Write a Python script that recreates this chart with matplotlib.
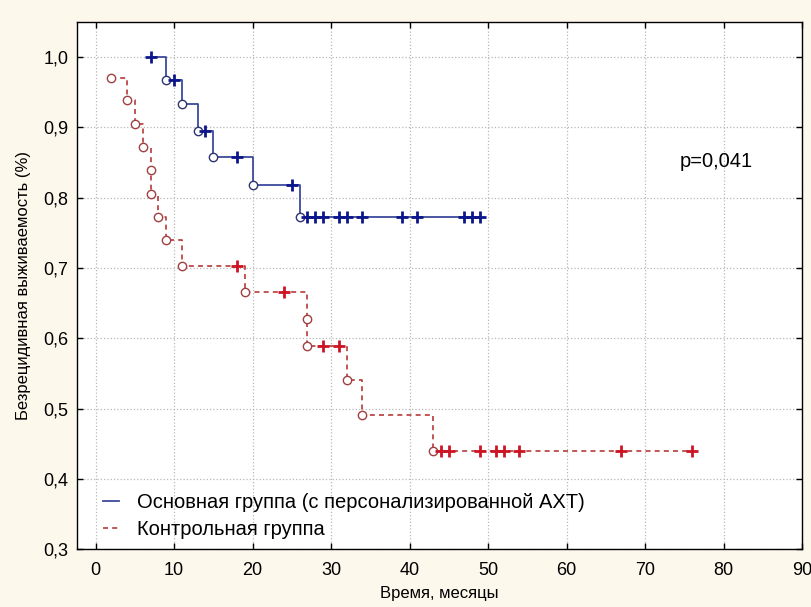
import numpy as np
import matplotlib
matplotlib.use('Agg')
import matplotlib.pyplot as plt
from matplotlib.lines import Line2D

plt.rcParams['font.family'] = ['Liberation Sans', 'DejaVu Sans']

# main group (personalised chemotherapy): event times / survival after event
blue_event_t = [9, 11, 13, 15, 20, 26]
blue_event_s = [0.967, 0.933, 0.895, 0.858, 0.818, 0.772]
blue_cens_t = [7, 10, 14, 18, 25, 27, 28, 29, 31, 32, 34, 39, 41, 47, 48, 49]

# control group
red_event_t = [2, 4, 5, 6, 7, 7, 8, 9, 11, 19, 27, 27, 32, 34, 43]
red_event_s = [0.970, 0.938, 0.905, 0.872, 0.839, 0.805, 0.772, 0.739,
               0.703, 0.666, 0.628, 0.589, 0.540, 0.491, 0.440]
red_cens_t = [18, 24, 29, 31, 44, 45, 49, 51, 52, 54, 67, 76]

xticks = [0, 10, 20, 30, 40, 50, 60, 70, 80, 90]
yticks = [0.3, 0.4, 0.5, 0.6, 0.7, 0.8, 0.9, 1.0]
ytick_labels = ['0,3', '0,4', '0,5', '0,6', '0,7', '0,8', '0,9', '1,0']

legend_labels = ['Основная группа (с персонализированной АХТ)', 'Контрольная группа']
p_text = 'p=0,041'


def surv_at(t, ev_t, ev_s):
    s = 1.0
    for et, es in zip(ev_t, ev_s):
        if et <= t:
            s = es
    return s


def km_curve(ax, ev_t, ev_s, cens_t, line_kw, circ_col, plus_col):
    cens_s = [surv_at(t, ev_t, ev_s) for t in cens_t]
    pts = [(t, s, 0) for t, s in zip(ev_t, ev_s)] + [(t, s, 1) for t, s in zip(cens_t, cens_s)]
    pts.sort(key=lambda p: (p[0], -p[1]))
    xs = [p[0] for p in pts]
    ys = [p[1] for p in pts]
    ax.step(xs, ys, where='post', zorder=3, **line_kw)
    ax.plot(ev_t, ev_s, 'o', ms=6, mfc='white', mec=circ_col, mew=1.0, zorder=4)
    ax.plot(cens_t, cens_s, '+', ms=8, mec=plus_col, mew=2.0, zorder=4)


fig = plt.figure(figsize=(8.11, 6.07), dpi=100, facecolor='#fdf8ec')
ax = fig.add_axes([0.0946, 0.0951, 0.8943, 0.8692])
ax.set_facecolor('white')

blue_kw = dict(color='#3d4a9c', lw=1.3, ls='-')
red_kw = dict(color='#b83a3a', lw=1.2, ls=(0, (3, 2.5)))

km_curve(ax, blue_event_t, blue_event_s, blue_cens_t, blue_kw, '#2c3570', '#0c168c')
km_curve(ax, red_event_t, red_event_s, red_cens_t, red_kw, '#a04040', '#cc1424')

ax.set_xlim(-2.4, 90)
ax.set_ylim(0.3, 1.05)
ax.set_xticks(xticks)
ax.set_xticklabels([str(v) for v in xticks])
ax.set_yticks(yticks)
ax.set_yticklabels(ytick_labels)

ax.grid(True, ls=':', color='#b8b8b8', lw=0.9, zorder=0)
ax.set_axisbelow(True)
for sp in ax.spines.values():
    sp.set_color('black')
    sp.set_linewidth(1.0)

ax.tick_params(direction='in', length=4, width=1, top=True, right=True,
               labelsize=13)
ax.tick_params(axis='x', pad=9)
ax.tick_params(axis='y', pad=6)

ax.set_xlabel('Время, месяцы', fontsize=12, labelpad=5)
ax.set_ylabel('Безрецидивная выживаемость (%)', fontsize=12, labelpad=9)

ax.text(74.4, 0.851, p_text, fontsize=14.5, va='center', ha='left')

handles = [Line2D([], [], **blue_kw), Line2D([], [], **red_kw)]
ax.legend(handles, legend_labels, loc='lower left', bbox_to_anchor=(0.036, 0.02),
          frameon=False, fontsize=14.5, handlelength=0.8, handletextpad=0.9,
          labelspacing=0.4, borderpad=0, borderaxespad=0)

fig.savefig('out.png', dpi=100, facecolor=fig.get_facecolor())
